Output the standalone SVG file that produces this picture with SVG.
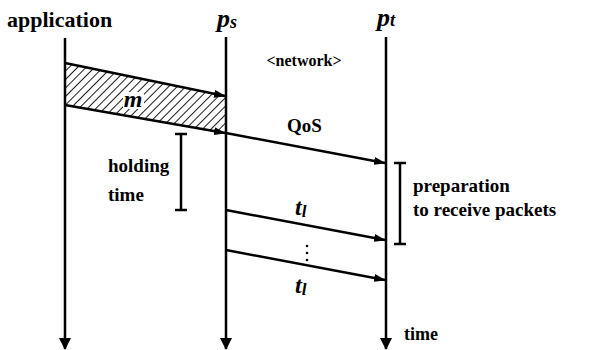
<svg xmlns="http://www.w3.org/2000/svg" width="592" height="350" viewBox="0 0 592 350">
<defs>
<pattern id="hatch" patternUnits="userSpaceOnUse" width="6" height="6" patternTransform="rotate(45)">
<line x1="0" y1="0" x2="0" y2="6" stroke="#000" stroke-width="1.8"/>
</pattern>
<marker id="ah" markerWidth="12" markerHeight="8" refX="11" refY="4" orient="auto" markerUnits="userSpaceOnUse">
<path d="M0,0 L12,4 L0,8 Z" fill="#000"/>
</marker>
<marker id="dh" markerWidth="12" markerHeight="14" refX="11" refY="6" orient="auto" markerUnits="userSpaceOnUse">
<path d="M0,0 L12,6 L0,12 Z" fill="#000"/>
</marker>
</defs>
<g id="application">
<text x="7" y="27" font-size="22" font-family="Liberation Serif" font-weight="bold">application</text>
<line stroke="#000" stroke-width="2.5" x1="65" y1="38" x2="65" y2="349" marker-end="url(#dh)"/>
</g>
<g id="ps">
<text x="217" y="27" font-size="26" font-style="italic" font-family="Liberation Serif" font-weight="bold">p<tspan font-size="18" dy="1">s</tspan></text>
<line stroke="#000" stroke-width="2.5" x1="226" y1="37" x2="226" y2="349" marker-end="url(#dh)"/>
</g>
<g id="pt">
<text x="377" y="26" font-size="26" font-style="italic" font-family="Liberation Serif" font-weight="bold">p<tspan font-size="18">t</tspan></text>
<line stroke="#000" stroke-width="2.5" x1="386" y1="37" x2="386" y2="349" marker-end="url(#dh)"/>
<text x="404" y="340" font-size="18" font-family="Liberation Serif" font-weight="bold">time</text>
</g>
<g id="network">
<text x="304" y="66" font-size="16" text-anchor="middle" font-family="Liberation Serif" font-weight="bold">&lt;network&gt;</text>
</g>
<g id="message">
<polygon points="65,63 226,96 226,133 65,105" fill="url(#hatch)"/>
<rect x="123" y="92" width="21" height="17" fill="#fff"/>
<text x="133" y="107" font-size="24" font-style="italic" text-anchor="middle" font-family="Liberation Serif" font-weight="bold">m</text>
</g>
<g id="holding" stroke="#000" stroke-width="2.5">
<line x1="181" y1="134" x2="181" y2="210"/>
<line x1="175" y1="134" x2="187" y2="134"/>
<line x1="175" y1="210" x2="187" y2="210"/>
<text stroke="none" x="108" y="172" font-size="19" font-family="Liberation Serif" font-weight="bold">holding</text>
<text stroke="none" x="108" y="201" font-size="19" font-family="Liberation Serif" font-weight="bold">time</text>
</g>
<g id="preparation" stroke="#000" stroke-width="2.5">
<line x1="400" y1="163" x2="400" y2="244"/>
<line x1="394" y1="163" x2="406" y2="163"/>
<line x1="394" y1="244" x2="406" y2="244"/>
<text stroke="none" x="413" y="192" font-size="19" font-family="Liberation Serif" font-weight="bold">preparation</text>
<text stroke="none" x="413" y="216" font-size="19" font-family="Liberation Serif" font-weight="bold">to receive packets</text>
</g>
<g id="connectors" stroke="#000" stroke-width="2.5">
<line x1="65" y1="63" x2="225" y2="96" marker-end="url(#ah)"/>
<line x1="65" y1="105" x2="225" y2="133" marker-end="url(#ah)"/>
<line x1="226" y1="133" x2="385" y2="163" marker-end="url(#ah)"/>
<line x1="226" y1="210" x2="385" y2="240" marker-end="url(#ah)"/>
<line x1="226" y1="250" x2="385" y2="280" marker-end="url(#ah)"/>
</g>
<g id="labels">
<text x="287" y="132" font-size="19" font-family="Liberation Serif" font-weight="bold">QoS</text>
<text x="295" y="215" font-size="24" font-style="italic" font-family="Liberation Serif" font-weight="bold">t<tspan font-size="17" dy="2">l</tspan></text>
<text x="295" y="293" font-size="24" font-style="italic" font-family="Liberation Serif" font-weight="bold">t<tspan font-size="17" dy="2">l</tspan></text>
<circle cx="307" cy="246" r="1.3" fill="#000"/>
<circle cx="307" cy="253" r="1.3" fill="#000"/>
<circle cx="307" cy="260" r="1.3" fill="#000"/>
</g>
</svg>
